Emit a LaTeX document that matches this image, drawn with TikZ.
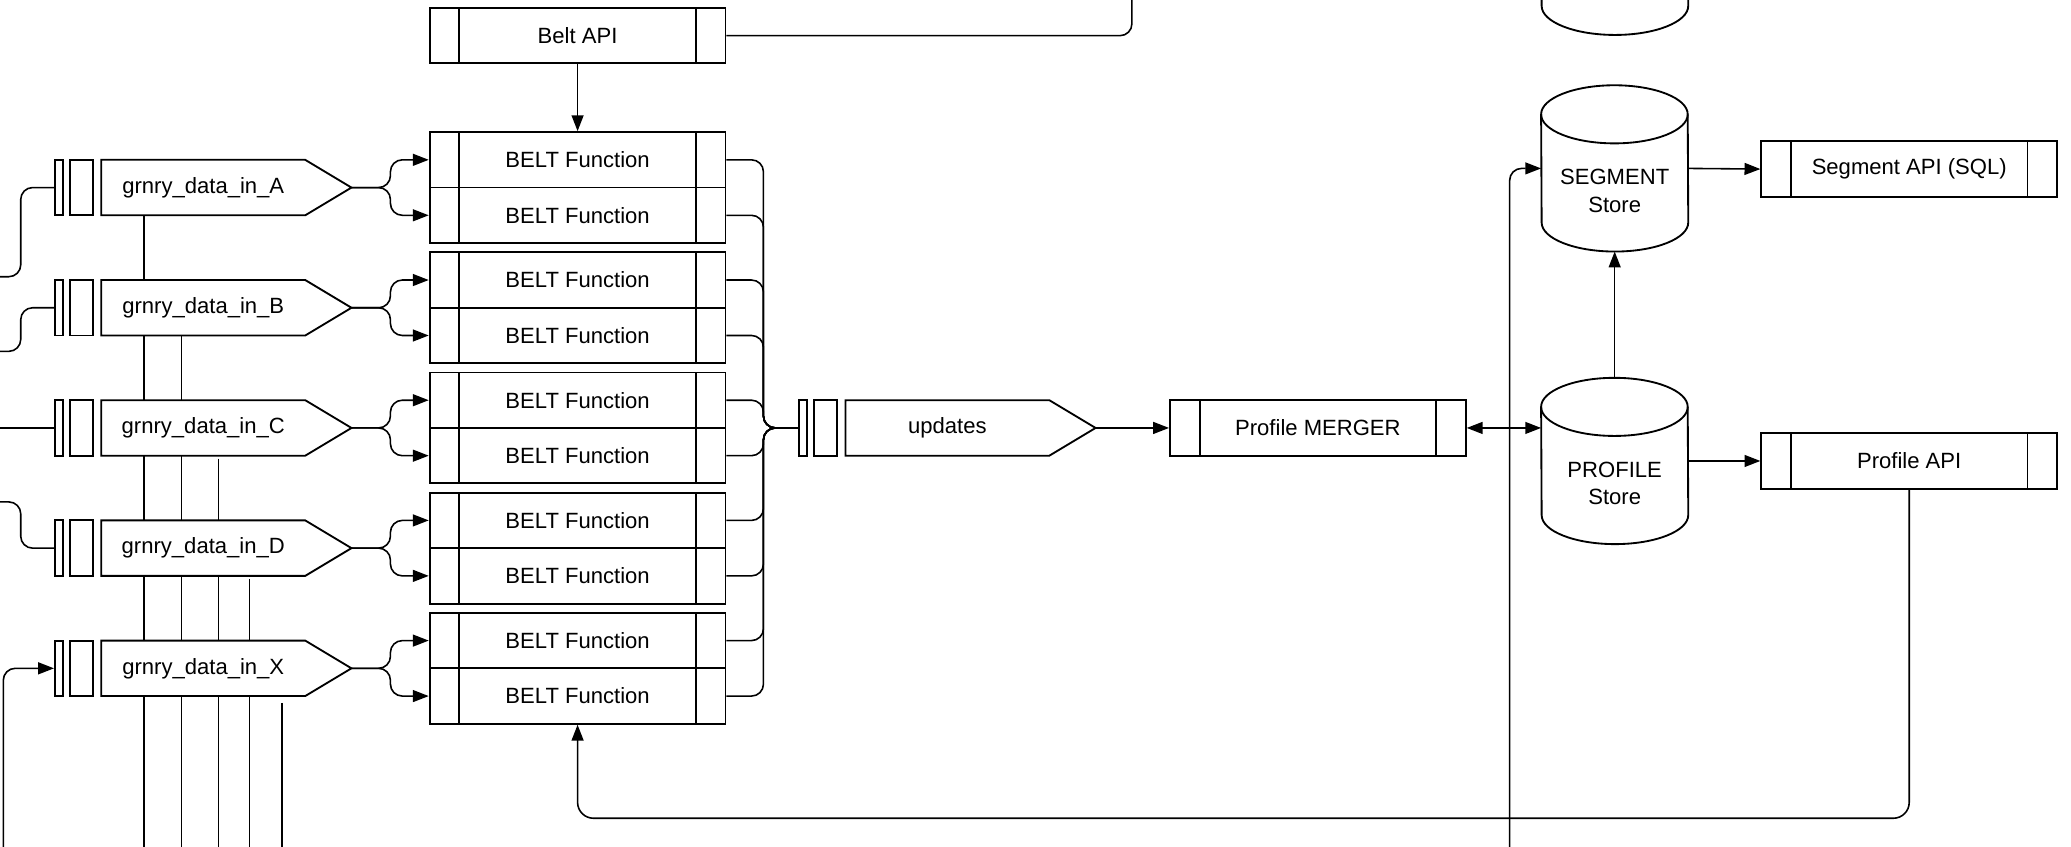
\documentclass[tikz,border=0pt]{standalone}
\usepackage{fontspec}
\setmainfont{Liberation Sans}
\usetikzlibrary{arrows.meta,calc}
\pgfdeclarelayer{bg}
\pgfsetlayers{bg,main}
\newcommand{\dgfont}{\fontsize{16.7}{21}\selectfont}
\tikzset{
  box/.style={draw, fill=white, line width=1.4pt, inner sep=0pt, font=\dgfont},
  proc/.style={box, minimum width=224pt, minimum height=42pt, path picture={
      \draw[line width=1.4pt] ([xshift=22.5pt]path picture bounding box.north west) -- ([xshift=22.5pt]path picture bounding box.south west)
        ([xshift=-22.5pt]path picture bounding box.north east) -- ([xshift=-22.5pt]path picture bounding box.south east);}},
  qthin/.style={box, minimum width=6pt, minimum height=42pt},
  qmid/.style={box, minimum width=17pt, minimum height=42pt},
  qbody/.style={draw, fill=white, line width=1.4pt, line join=miter},
  qtext/.style={inner sep=0pt, minimum width=154.4pt, minimum height=42pt, font=\dgfont},
  cylbox/.style={inner sep=0pt, minimum width=111pt, minimum height=125.5pt},
  cyl/.style={draw, fill=white, line width=1.4pt},
  cyltext/.style={font=\dgfont, align=center, inner sep=0pt},
  conn/.style={line width=1.2pt, rounded corners=9pt},
  arr/.style={conn, -{Triangle[length=12pt,width=9pt]}},
  darr/.style={conn, {Triangle[length=12pt,width=9pt]}-{Triangle[length=12pt,width=9pt]}},
  bus/.style={line width=1.2pt},
}
% queue: #1 name, #2 left x of thin bar, #3 centre y, #4 text
\newcommand{\dgqueue}[4]{%
  \node[qthin] (#1-t) at ({#2+3}, #3) {};
  \node[qmid] (#1-m) at ({#2+20}, #3) {};
  \path[qbody] ({#2+35.1}, {#3-21}) -- ({#2+189.5}, {#3-21}) -- ({#2+224.5}, #3) -- ({#2+189.5}, {#3+21}) -- ({#2+35.1}, {#3+21}) -- cycle;
  \node[qtext] (#1) at ({#2+112.3}, #3) {#4};
  \coordinate (#1-tip) at ({#2+224.5}, #3);
}
% cylinder outline round an invisible node #1
\newcommand{\dgcyl}[1]{%
  \path[cyl] ([yshift=-22pt]#1.north west) arc[start angle=180, end angle=0, x radius=55.5pt, y radius=22pt]
     -- ([yshift=22pt]#1.south east) arc[start angle=0, end angle=-180, x radius=55.5pt, y radius=22pt] -- cycle;
  \draw[line width=1.4pt] ([yshift=-22pt]#1.north west) arc[start angle=180, end angle=360, x radius=55.5pt, y radius=22pt];
}
\begin{document}
\begin{tikzpicture}[x=1pt, y=-1pt]
\path[use as bounding box] (0,0) rectangle (1568,641);
\clip (0,0) rectangle (1568,641);

% ---------- input queues ----------
\dgqueue{inA}{41.6}{142}{grnry\_data\_in\_A}
\dgqueue{inB}{41.6}{233}{grnry\_data\_in\_B}
\dgqueue{inC}{41.6}{324}{grnry\_data\_in\_C}
\dgqueue{inD}{41.6}{415}{grnry\_data\_in\_D}
\dgqueue{inX}{41.6}{506}{grnry\_data\_in\_X}
\dgqueue{upd}{605}{324}{updates}

% ---------- BELT functions ----------
\foreach \i/\t in {1/100,2/191,3/282,4/373,5/464} {
  \node[proc] (bfa\i) at (437.3, \t+21) {BELT Function};
  \node[proc] (bfb\i) at (437.3, \t+63) {BELT Function};
}
\node[proc] (beltapi) at (437.3, 27) {Belt API};
\node[proc] (merger) at (997.8, 324) {Profile MERGER};
\node[proc] (segapi) at (1445.5, 128) {Segment API (SQL)};
\node[proc] (profapi) at (1445.5, 349) {Profile API};

% ---------- stores ----------
\node[cylbox] (dbtop) at (1222.5, -36.5) {};
\dgcyl{dbtop}
\node[cylbox] (seg) at (1222.5, 127.5) {};
\dgcyl{seg}
\node[cyltext] (seg-l) at ([yshift=-17pt]seg.center) {SEGMENT\\Store};
\node[cylbox] (prof) at (1222.5, 349) {};
\dgcyl{prof}
\node[cyltext] (prof-l) at ([yshift=-17pt]prof.center) {PROFILE\\Store};

% ---------- free ends ----------
\coordinate (srcA) at (-5, 209.5);
\coordinate (srcB) at (-5, 266);
\coordinate (srcC) at (-5, 324);
\coordinate (srcD) at (-5, 380);
\coordinate (srcX) at (2.5, 660);
\coordinate (busA) at (109, 660);
\coordinate (busB) at (137.5, 660);
\coordinate (busC) at (165.5, 660);
\coordinate (busD) at (189, 660);
\coordinate (busX) at (213.3, 660);
\coordinate (topout) at (857, -10);
\coordinate (segsrc) at (1143, 660);
\coordinate (loopy) at (0, 619.5);

% ---------- connectors (behind the shapes) ----------
\begin{pgfonlayer}{bg}
\fill[white] (0,0) rectangle (1568,641);
\clip (0,0) rectangle (1568,641);
% inputs from the left
\draw[conn] (srcA) -- ++(20.7,0) |- (inA-t.west);
\draw[conn] (srcB) -- ++(20.7,0) |- (inB-t.west);
\draw[conn] (srcC) -- (inC-t.west);
\draw[conn] (srcD) -- ++(20.7,0) |- (inD-t.west);
\draw[arr] (srcX) |- (inX-t.west);
% vertical bus lines
\draw[bus] (inA.south -| busA) -- (busA);
\draw[bus] (inB.south -| busB) -- (busB);
\draw[bus] ($(inC.south -| busC)+(0,2)$) -- (busC);
\draw[bus] ($(inD.south -| busD)+(0,2)$) -- (busD);
\draw[bus] ($(inX.south -| busX)+(0,5)$) -- (busX);
% queues to functions, functions to updates
\foreach \q/\i in {inA/1,inB/2,inC/3,inD/4,inX/5} {
  \draw[arr] (\q-tip) -- ++(29.5,0) |- (bfa\i.west);
  \draw[arr] (\q-tip) -- ++(29.5,0) |- (bfb\i.west);
  \draw[conn] (bfa\i.east) -- ++(28,0) |- (upd-t.west);
  \draw[conn] (bfb\i.east) -- ++(28,0) |- (upd-t.west);
}
\draw[arr] (beltapi.south) -- (bfa1.north);
\draw[conn] (beltapi.east) -| (topout);
\draw[arr] (upd-tip) -- (merger.west);
\draw[darr] (merger.east) -- (merger.east -| prof.west);
\draw[arr] (prof.north) -- (seg.south);
\draw[arr] (seg.east) -- (segapi.west);
\draw[arr] (prof.east) -- (profapi.west);
\draw[arr] (segsrc) |- (seg.west);
\draw[arr, rounded corners=12pt] (profapi.south) -- (profapi.south |- loopy) -- (loopy -| bfb5.south) -- (bfb5.south);
\end{pgfonlayer}
\end{tikzpicture}
\end{document}
